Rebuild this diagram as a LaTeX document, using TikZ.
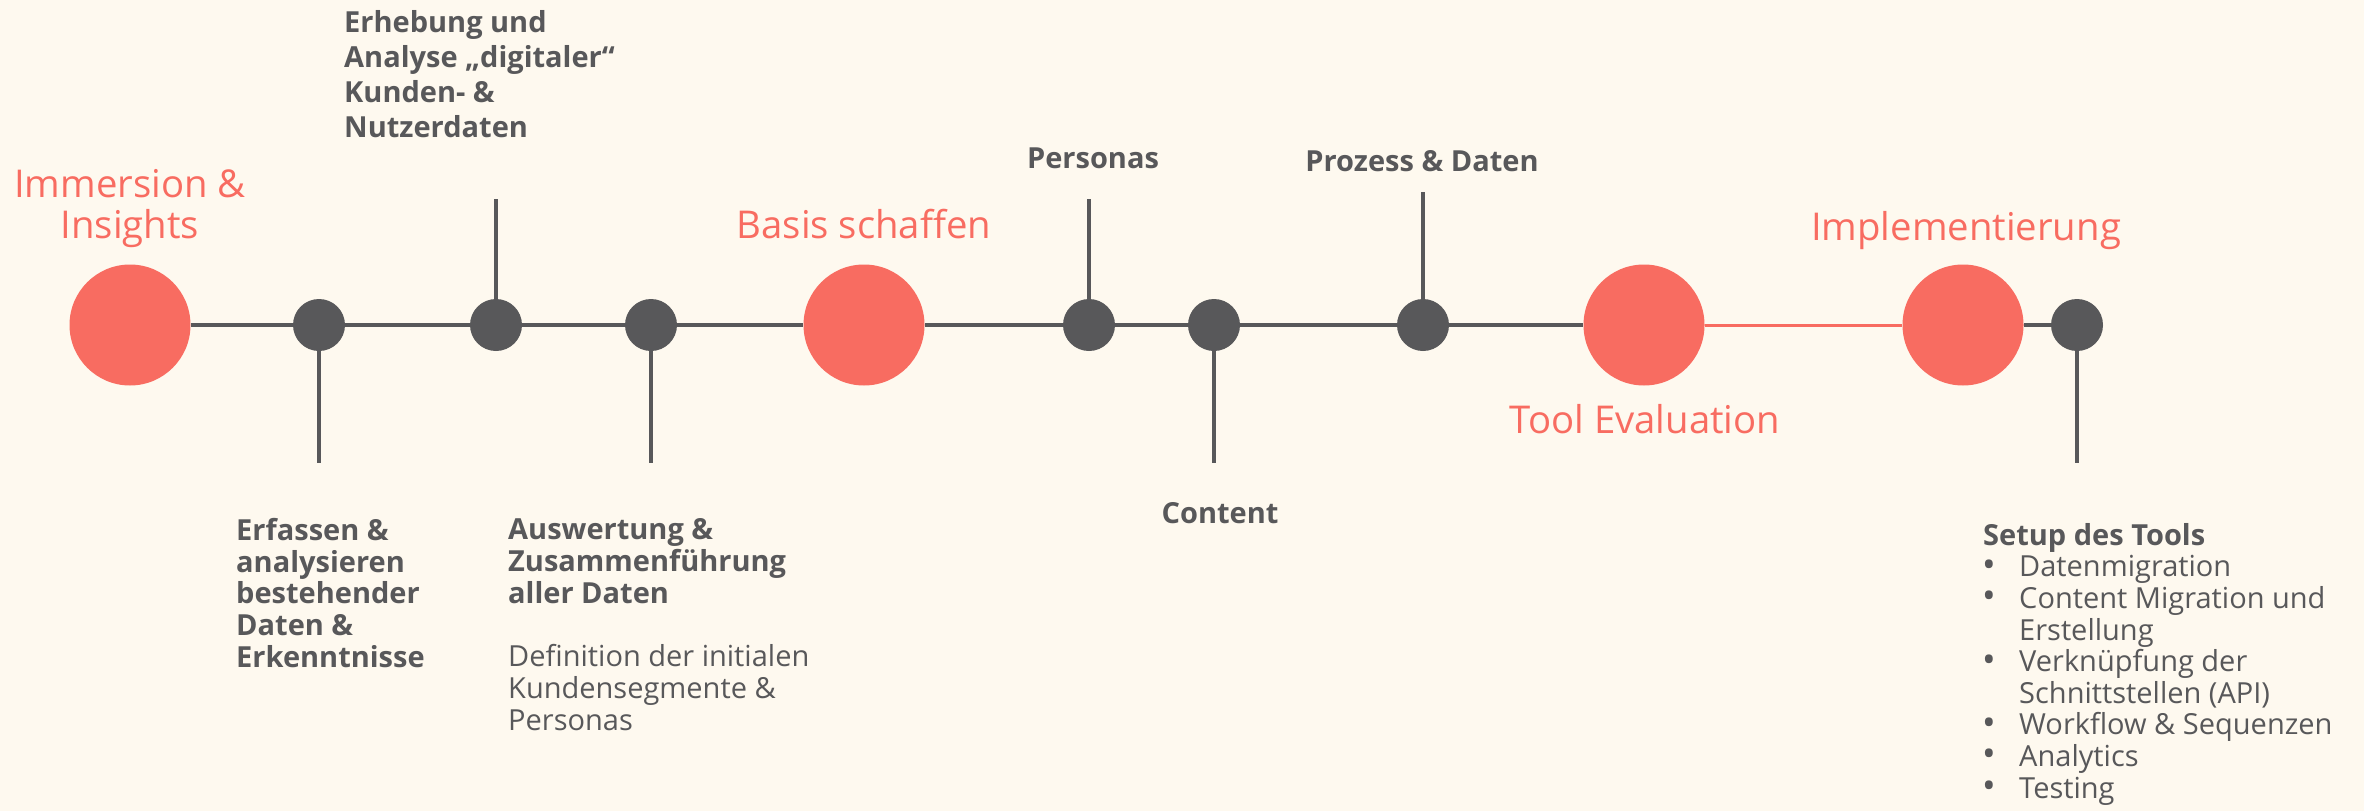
\documentclass[tikz,border=0pt]{standalone}
\usepackage{fontspec}
\setmainfont{Open Sans}
\definecolor{bg}{HTML}{FEF9EF}
\definecolor{coral}{HTML}{F86C61}
\definecolor{dgray}{HTML}{58585A}
\newcommand{\bul}{\makebox[36pt][l]{\hspace*{-1pt}\raisebox{-0.5pt}{\scalebox{1.25}{•}}}}
\begin{document}
\begin{tikzpicture}[x=1pt,y=-1pt,
  big/.style={circle,fill=coral,minimum size=121pt,inner sep=0pt},
  small/.style={circle,fill=dgray,minimum size=52pt,inner sep=0pt},
  conn/.style={draw=dgray,line width=3.5pt},
  redconn/.style={draw=coral,line width=3pt},
  title/.style={text=coral,font=\fontsize{38.3}{41}\selectfont,align=center,inner sep=0pt},
  lbl/.style={text=dgray,font=\fontsize{29}{31.6}\selectfont\bfseries,align=left,inner sep=0pt},
  plain/.style={text=dgray,font=\fontsize{29}{31.6}\selectfont,align=left,inner sep=0pt}
]
\fill[bg] (0,0) rectangle (2364,811);
\useasboundingbox (0,0) rectangle (2364,811);

% main circles
\node[big] (I) at (130,325) {};
\node[big] (B) at (864,325) {};
\node[big] (T) at (1644,325) {};
\node[big] (M) at (1963,325) {};
% small circles
\node[small] (c1) at (319,325) {};
\node[small] (c2) at (496,325) {};
\node[small] (c3) at (651,325) {};
\node[small] (p) at (1089,325) {};
\node[small] (c) at (1214,325) {};
\node[small] (pd) at (1423,325) {};
\node[small] (s) at (2077,325) {};

% stems
\coordinate (c1e) at (319,463);
\coordinate (c2e) at (496,199);
\coordinate (c3e) at (651,463);
\coordinate (pe) at (1089,199);
\coordinate (ce) at (1214,463);
\coordinate (pde) at (1423,192);
\coordinate (se) at (2077,463);

% main line
\draw[conn] (I) -- (c1);
\draw[conn] (c1) -- (c2);
\draw[conn] (c2) -- (c3);
\draw[conn] (c3) -- (B);
\draw[conn] (B) -- (p);
\draw[conn] (p) -- (c);
\draw[conn] (c) -- (pd);
\draw[conn] (pd) -- (T);
\draw[redconn] (T) -- (M);
\draw[conn] (M) -- (s);

\draw[conn] (c1) -- (c1e);
\draw[conn] (c2) -- (c2e);
\draw[conn] (c3) -- (c3e);
\draw[conn] (p) -- (pe);
\draw[conn] (c) -- (ce);
\draw[conn] (pd) -- (pde);
\draw[conn] (s) -- (se);

% titles (base anchor = baseline of last line)
\node[title,anchor=base] (tI) at (130,238) {Immersion \&\\Insights};
\node[title,anchor=base] (tB) at (864,238) {Basis schaffen};
\node[title,anchor=base] (tT) at (1645,433) {Tool Evaluation};
\node[title,anchor=base] (tM) at (1966,240) {Implementierung};

% labels
\node[lbl,anchor=base west,font=\fontsize{29}{35}\selectfont\bfseries] (l2) at (344,137)
  {Erhebung und\\Analyse „digitaler“\\Kunden- \&\\Nutzerdaten};
\node[lbl,anchor=base] (lp) at (1093,168) {Personas};
\node[lbl,anchor=base] (lpd) at (1422,171) {Prozess \& Daten};
\node[lbl,anchor=base] (lc) at (1220,523) {Content};
\node[lbl,anchor=base west] (l1) at (236,667)
  {Erfassen \&\\analysieren\\bestehender\\Daten \&\\Erkenntnisse};
\node[lbl,anchor=base west] (l3) at (508,603)
  {Auswertung \&\\Zusammenführung\\aller Daten};
\node[plain,anchor=base west] (l3b) at (508,730)
  {Definition der initialen\\Kundensegmente \&\\Personas};
\node[plain,anchor=base west] (ls) at (1983,798)
  {\textbf{Setup des Tools}\\
   \bul Datenmigration\\
   \bul Content Migration und\\
   \hspace*{36pt}Erstellung\\
   \bul Verknüpfung der\\
   \hspace*{36pt}Schnittstellen (API)\\
   \bul Workflow \& Sequenzen\\
   \bul Analytics\\
   \bul Testing};
\end{tikzpicture}
\end{document}
